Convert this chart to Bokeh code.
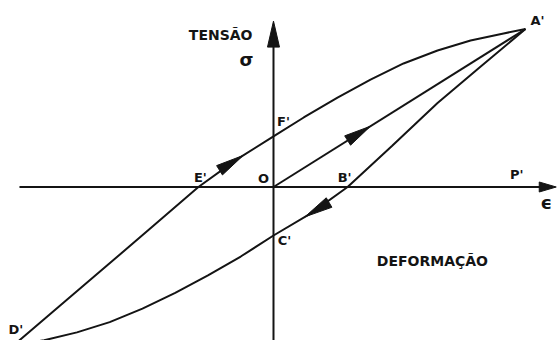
import numpy as np
from bokeh.plotting import figure
from bokeh.models import Range1d
from bokeh.core.properties import value
from bokeh.embed import file_html
from bokeh.resources import INLINE

# Stress-strain hysteresis loop, strain and stress normalised so the peak A' is (1, 1)
first_eps = [0.0, 1.0]
first_sig = [0.0, 1.0]

# reloading branch D' -> E' -> F' -> A'
load_eps = [-1.03, -0.85, -0.67, -0.48, -0.298, -0.15, 0.00, 0.12, 0.254, 0.385, 0.516, 0.651, 0.782, 0.913, 1.00]
load_sig = [-1.00, -0.755, -0.51, -0.25, 0.00, 0.17, 0.32, 0.44, 0.566, 0.68, 0.782, 0.864, 0.927, 0.972, 1.00]

# unloading branch A' -> B' -> C' -> D'
unload_eps = [1.00, 0.82, 0.651, 0.47, 0.294, 0.15, 0.00, -0.13, -0.26, -0.39, -0.52, -0.65, -0.78, -0.91, -1.03]
unload_sig = [1.00, 0.76, 0.532, 0.26, 0.00, -0.165, -0.307, -0.44, -0.56, -0.67, -0.77, -0.855, -0.92, -0.97, -1.00]

# named points of the loop
point_names = ["O", "A'", "B'", "C'", "D'", "E'", "F'"]
point_eps = [0.0, 1.0, 0.294, 0.0, -1.03, -0.298, 0.0]
point_sig = [0.0, 1.0, 0.0, -0.307, -1.0, 0.0, 0.32]

W, H = 560, 340
X0, X1 = -1.0833, 1.1389
Y0, Y1 = -0.9715, 1.1804
PX = W / (X1 - X0)   # pixels per strain unit
PY = H / (Y1 - Y0)   # pixels per stress unit

INK = "#141414"
FONT = value("DejaVu Sans")
LW = 2.0

p = figure(width=W, height=H, x_range=Range1d(X0, X1), y_range=Range1d(Y0, Y1),
           x_axis_type=None, y_axis_type=None, toolbar_location=None,
           output_backend="svg", min_border=0)
p.grid.visible = False
p.outline_line_color = None
p.background_fill_color = "white"
p.border_fill_color = "white"


def head(tip_x, tip_y, dx, dy, length, width):
    """Filled triangular arrow head with its tip at (tip_x, tip_y), pointing along (dx, dy)."""
    ux, uy = dx * PX, dy * PY
    n = np.hypot(ux, uy)
    ux, uy = ux / n, uy / n
    bx, by = -ux * length, -uy * length
    nx, ny = -uy * width / 2, ux * width / 2
    xs = [tip_x, tip_x + (bx + nx) / PX, tip_x + (bx - nx) / PX]
    ys = [tip_y, tip_y + (by + ny) / PY, tip_y + (by - ny) / PY]
    p.patch(xs, ys, fill_color=INK, line_color=INK, line_width=1)


def head_on(xs, ys, at_x, length, width, forward=True):
    """Arrow head on a polyline at strain at_x, pointing along the drawing direction."""
    for i in range(len(xs) - 1):
        a, b = xs[i], xs[i + 1]
        if min(a, b) <= at_x <= max(a, b):
            t = (at_x - a) / (b - a)
            ty = ys[i] + t * (ys[i + 1] - ys[i])
            dx, dy = b - a, ys[i + 1] - ys[i]
            if not forward:
                dx, dy = -dx, -dy
            head(at_x, ty, dx, dy, length, width)
            return


# coordinate axes
eps_axis_start, eps_axis_tip = -1.008, 1.122
sig_axis_tip = 1.05
p.line([eps_axis_start, eps_axis_tip - 0.03], [0, 0], line_color=INK, line_width=LW)
p.line([0, 0], [Y0 - 0.1, sig_axis_tip - 0.08], line_color=INK, line_width=LW)
head(eps_axis_tip, 0.0, 1, 0, 17, 10)
head(0.0, sig_axis_tip, 0, 1, 26, 12)

# loop branches
p.line(first_eps, first_sig, line_color=INK, line_width=LW)
p.line(load_eps, load_sig, line_color=INK, line_width=LW)
p.line(unload_eps, unload_sig, line_color=INK, line_width=LW)

head_on(first_eps, first_sig, 0.385, 27, 11)
head_on(load_eps, load_sig, -0.12, 28, 11)
head_on(unload_eps, unload_sig, 0.125, 28, 11)

# point labels, offset in pixels from their points
label_dx = [-10, 12, -3, 11, 2, 2, 10]
label_dy = [-9, -9, -10, 5, -16, -10, -15]
for name, ex, sy, ox, oy in zip(point_names, point_eps, point_sig, label_dx, label_dy):
    p.text([ex], [sy], text=[name], x_offset=ox, y_offset=oy,
           text_align="center", text_baseline="middle",
           text_font=FONT, text_font_style="bold", text_font_size="13px", text_color=INK)

# P' marker on the strain axis
p.text([0.965], [0.0], text=["P'"], x_offset=0, y_offset=-13,
       text_align="center", text_baseline="middle",
       text_font=FONT, text_font_style="bold", text_font_size="13px", text_color=INK)

# axis titles
p.text([0.0], [sig_axis_tip], text=["TENSÃO"], x_offset=-21, y_offset=14,
       text_align="right", text_baseline="middle",
       text_font=FONT, text_font_style="bold", text_font_size="14px", text_color=INK)
p.text([0.0], [sig_axis_tip], text=["σ"], x_offset=-27, y_offset=38,
       text_align="center", text_baseline="middle",
       text_font=FONT, text_font_style="bold", text_font_size="18px", text_color=INK)
p.text([eps_axis_tip], [0.0], text=["ϵ"], x_offset=-10, y_offset=15,
       text_align="center", text_baseline="middle",
       text_font=FONT, text_font_style="bold", text_font_size="18px", text_color=INK)
p.text([0.41], [-0.47], text=["DEFORMAÇÃO"],
       text_align="left", text_baseline="middle",
       text_font=FONT, text_font_style="bold", text_font_size="14px", text_color=INK)

open("out.html", "w").write(file_html(p, INLINE))
